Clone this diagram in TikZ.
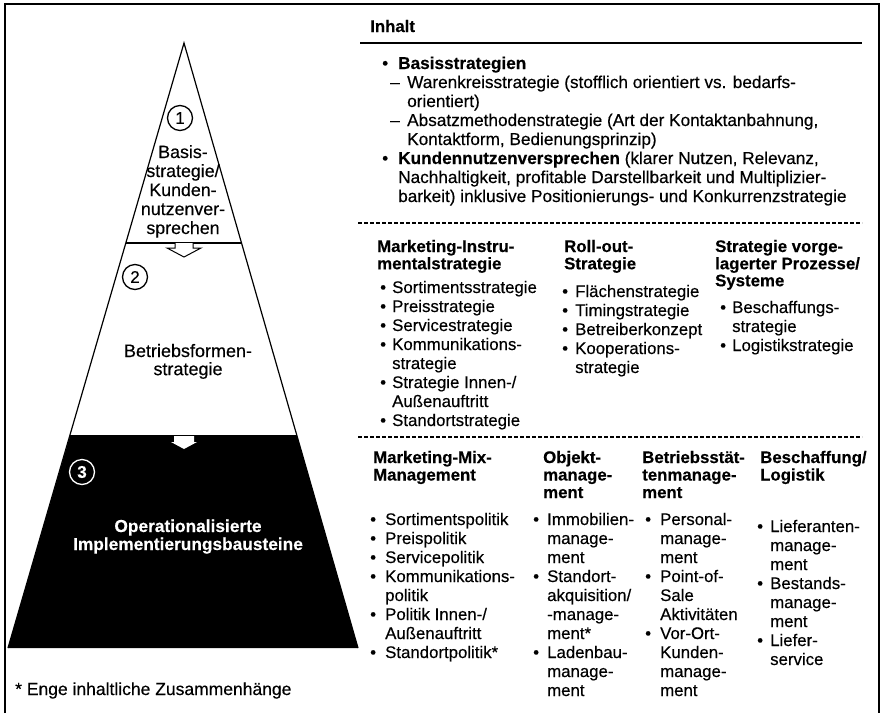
\documentclass[tikz,border=0pt]{standalone}
\usepackage{fontspec}
\setmainfont{Liberation Sans}[UprightFeatures={FakeBold=0.35}, BoldFeatures={FakeBold=0.35}]
\newcommand{\liste}[1]{\begin{tabular}[t]{@{}l@{}}#1\end{tabular}}
\newcommand{\mitte}[1]{\begin{tabular}[t]{@{}c@{}}#1\end{tabular}}
\newcommand{\blt}[1]{\makebox[#1][l]{\textbullet}}
\newcommand{\ein}[1]{\hspace*{#1}}
\begin{document}
\begin{tikzpicture}[x=1pt,y=-1pt,
  txt/.style={inner sep=0pt, anchor=base west, font=\fontsize{16.8}{19}\selectfont},
  kopf/.style={txt, font=\fontsize{16.8}{17}\selectfont\bfseries},
  nr/.style={draw, circle, line width=1.3pt, minimum size=25pt, inner sep=0pt, font=\fontsize{17}{17}\selectfont},
  strich/.style={line width=1.2pt, dash pattern=on 3.5pt off 2.5pt}]
\useasboundingbox (0,0) rectangle (881,713);
% rahmen
\draw[line width=1.3pt] (5,713) -- (5,4) -- (879,4) -- (879,713);
% pyramide
\fill (70,436) -- (297,436) -- (358,648) -- (8,648) -- cycle;
\draw[line width=1.2pt] (8,648) -- (184,43) -- (358,648);
\draw[line width=1.2pt] (126,243) -- (242,243);
\draw[line width=1.2pt] (70,436) -- (297,436);
\filldraw[fill=white, line width=1pt] (175,243) -- (175,248) -- (167,248) -- (184,257) -- (201,248) -- (193,248) -- (193,243);
\fill[white] (174,436) -- (174,442) -- (171,442) -- (184,449) -- (197,442) -- (194,442) -- (194,436) -- cycle;
\node[nr] (n1) at (180,118) {1};
\node[txt, anchor=base, font=\fontsize{17.8}{19}\selectfont] (stufe1) at (183,158) {\mitte{Basis-\\strategie/\\Kunden-\\nutzenver-\\sprechen}};
\node[nr] (n2) at (135,277) {2};
\node[txt, anchor=base, font=\fontsize{18}{17}\selectfont] (stufe2) at (188,357) {\mitte{Betriebsformen-\\strategie}};
\node[nr, draw=white, text=white] (n3) at (82,472) {\textbf{3}};
\node[kopf, anchor=base, text=white, font=\fontsize{17.3}{18}\selectfont\bfseries] (stufe3) at (188,532) {\mitte{Operationalisierte\\Implementierungsbausteine}};
\node[txt, font=\fontsize{17.5}{19}\selectfont] (fussnote) at (15,695) {* Enge inhaltliche Zusammenhänge};
% inhalt
\node[kopf] (inhalt) at (370,32) {Inhalt};
\draw[line width=1.4pt] (360,43) -- (862,43);
\node[txt, font=\fontsize{17.2}{19}\selectfont] (basis) at (382,69) {\liste{%
  \blt{16pt}\textbf{Basisstrategien}\\
  \ein{8pt}\makebox[17pt][l]{--}Warenkreisstrategie (stofflich orientiert vs. bedarfs-\\
  \ein{25pt}orientiert)\\
  \ein{8pt}\makebox[17pt][l]{--}Absatzmethodenstrategie (Art der Kontaktanbahnung,\\
  \ein{25pt}Kontaktform, Bedienungsprinzip)\\
  \blt{16pt}\textbf{Kundennutzenversprechen} (klarer Nutzen, Relevanz,\\
  \ein{16pt}Nachhaltigkeit, profitable Darstellbarkeit und Multiplizier-\\
  \ein{16pt}barkeit) inklusive Positionierungs- und Konkurrenzstrategie}};
\draw[strich] (358,223) -- (862,223);
% betriebsform
\node[kopf] (k21) at (377,252) {\liste{Marketing-Instru-\\mentalstrategie}};
\node[txt] (l21) at (380,293) {\liste{%
  \blt{12pt}Sortimentsstrategie\\
  \blt{12pt}Preisstrategie\\
  \blt{12pt}Servicestrategie\\
  \blt{12pt}Kommunikations-\\
  \ein{12pt}strategie\\
  \blt{12pt}Strategie Innen-/\\
  \ein{12pt}Außenauftritt\\
  \blt{12pt}Standortstrategie}};
\node[kopf] (k22) at (564,252) {\liste{Roll-out-\\Strategie}};
\node[txt] (l22) at (562,297) {\liste{%
  \blt{13pt}Flächenstrategie\\
  \blt{13pt}Timingstrategie\\
  \blt{13pt}Betreiberkonzept\\
  \blt{13pt}Kooperations-\\
  \ein{13pt}strategie}};
\node[kopf] (k23) at (715,252) {\liste{Strategie vorge-\\lagerter Prozesse/\\Systeme}};
\node[txt] (l23) at (720,313) {\liste{%
  \blt{12pt}Beschaffungs-\\
  \ein{12pt}strategie\\
  \blt{12pt}Logistikstrategie}};
\draw[strich] (358,437) -- (862,437);
% implementierung
\node[kopf, font=\fontsize{16.8}{17.5}\selectfont\bfseries] (k31) at (373,463) {\liste{Marketing-Mix-\\Management}};
\node[txt] (l31) at (370,525) {\liste{%
  \blt{15pt}Sortimentspolitik\\
  \blt{15pt}Preispolitik\\
  \blt{15pt}Servicepolitik\\
  \blt{15pt}Kommunikations-\\
  \ein{15pt}politik\\
  \blt{15pt}Politik Innen-/\\
  \ein{15pt}Außenauftritt\\
  \blt{15pt}Standortpolitik*}};
\node[kopf, font=\fontsize{16.8}{17.5}\selectfont\bfseries] (k32) at (543,463) {\liste{Objekt-\\manage-\\ment}};
\node[txt] (l32) at (533,525) {\liste{%
  \blt{14pt}Immobilien-\\
  \ein{14pt}manage-\\
  \ein{14pt}ment\\
  \blt{14pt}Standort-\\
  \ein{14pt}akquisition/\\
  \ein{14pt}-manage-\\
  \ein{14pt}ment*\\
  \blt{14pt}Ladenbau-\\
  \ein{14pt}manage-\\
  \ein{14pt}ment}};
\node[kopf, font=\fontsize{16.8}{17.5}\selectfont\bfseries] (k33) at (642,463) {\liste{Betriebsstät-\\tenmanage-\\ment}};
\node[txt] (l33) at (645,525) {\liste{%
  \blt{15pt}Personal-\\
  \ein{15pt}manage-\\
  \ein{15pt}ment\\
  \blt{15pt}Point-of-\\
  \ein{15pt}Sale\\
  \ein{15pt}Aktivitäten\\
  \blt{15pt}Vor-Ort-\\
  \ein{15pt}Kunden-\\
  \ein{15pt}manage-\\
  \ein{15pt}ment}};
\node[kopf, font=\fontsize{16.8}{17.5}\selectfont\bfseries] (k34) at (760,463) {\liste{Beschaffung/\\Logistik}};
\node[txt] (l34) at (757,532) {\liste{%
  \blt{13pt}Lieferanten-\\
  \ein{13pt}manage-\\
  \ein{13pt}ment\\
  \blt{13pt}Bestands-\\
  \ein{13pt}manage-\\
  \ein{13pt}ment\\
  \blt{13pt}Liefer-\\
  \ein{13pt}service}};
\end{tikzpicture}
\end{document}
